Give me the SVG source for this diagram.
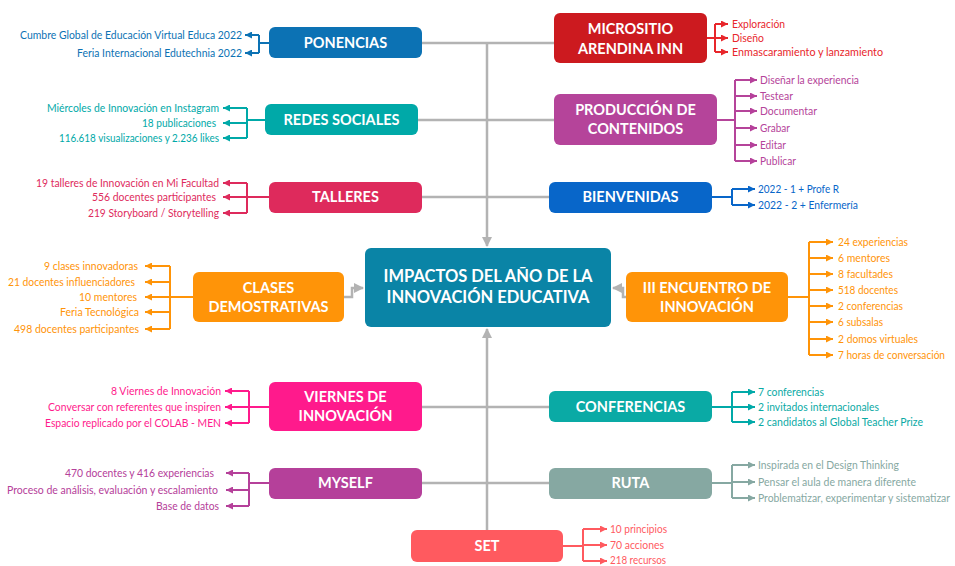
<svg xmlns="http://www.w3.org/2000/svg" width="955" height="566" viewBox="0 0 955 566">
<style>
.bx{font-family:Lato,"Open Sans","Liberation Sans",sans-serif;font-weight:700;font-size:14.5px;fill:#fff;text-anchor:middle}
.ct{font-size:16.5px}
.lf{font-family:Lato,"Open Sans","Liberation Sans",sans-serif;font-size:11.5px}
.l{text-anchor:end}
.g{fill:none;stroke:#b3b3b3;stroke-width:2.5}
.br{fill:none;stroke-width:2}
</style>
<defs>
<marker id="ag" markerUnits="userSpaceOnUse" markerWidth="10" markerHeight="10" refX="9" refY="5" orient="auto"><path d="M0,0 L10,5 L0,10 z" fill="#b3b3b3"/></marker>
<marker id="a1" markerUnits="userSpaceOnUse" markerWidth="7" markerHeight="7" refX="7" refY="3.5" orient="auto"><path d="M0,0 L7,3.5 L0,7 z" fill="#0c72b4"/></marker>
<marker id="a2" markerUnits="userSpaceOnUse" markerWidth="7" markerHeight="7" refX="7" refY="3.5" orient="auto"><path d="M0,0 L7,3.5 L0,7 z" fill="#00a9a8"/></marker>
<marker id="a3" markerUnits="userSpaceOnUse" markerWidth="7" markerHeight="7" refX="7" refY="3.5" orient="auto"><path d="M0,0 L7,3.5 L0,7 z" fill="#de2a5c"/></marker>
<marker id="a4" markerUnits="userSpaceOnUse" markerWidth="7" markerHeight="7" refX="7" refY="3.5" orient="auto"><path d="M0,0 L7,3.5 L0,7 z" fill="#ff9408"/></marker>
<marker id="a5" markerUnits="userSpaceOnUse" markerWidth="7" markerHeight="7" refX="7" refY="3.5" orient="auto"><path d="M0,0 L7,3.5 L0,7 z" fill="#ff1a8c"/></marker>
<marker id="a6" markerUnits="userSpaceOnUse" markerWidth="7" markerHeight="7" refX="7" refY="3.5" orient="auto"><path d="M0,0 L7,3.5 L0,7 z" fill="#b5409a"/></marker>
<marker id="a7" markerUnits="userSpaceOnUse" markerWidth="7" markerHeight="7" refX="7" refY="3.5" orient="auto"><path d="M0,0 L7,3.5 L0,7 z" fill="#e8262b"/></marker>
<marker id="a8" markerUnits="userSpaceOnUse" markerWidth="7" markerHeight="7" refX="7" refY="3.5" orient="auto"><path d="M0,0 L7,3.5 L0,7 z" fill="#0866c9"/></marker>
<marker id="a9" markerUnits="userSpaceOnUse" markerWidth="7" markerHeight="7" refX="7" refY="3.5" orient="auto"><path d="M0,0 L7,3.5 L0,7 z" fill="#86a8a2"/></marker>
<marker id="a10" markerUnits="userSpaceOnUse" markerWidth="7" markerHeight="7" refX="7" refY="3.5" orient="auto"><path d="M0,0 L7,3.5 L0,7 z" fill="#ff5a5f"/></marker>
</defs>
<rect width="955" height="566" fill="#fff"/>
<g id="connectors">
<path class="g" d="M422,43 H554 M418,120 H554 M422,197 H549 M422,407 H549 M422,483 H549"/>
<path class="g" d="M487,43 V246" marker-end="url(#ag)"/>
<path class="g" d="M487,530 V329" marker-end="url(#ag)"/>
<path class="g" d="M344,297 H352 V288 H363" marker-end="url(#ag)"/>
<path class="g" d="M626,297 H623 V288 H613" marker-end="url(#ag)"/>
<g class="br" stroke="#0c72b4"><path d="M269,43 H259 M259,35 V53"/><path d="M259,35 H245" marker-end="url(#a1)"/><path d="M259,53 H245" marker-end="url(#a1)"/></g>
<g class="br" stroke="#00a9a8"><path d="M265,120 H247 M247,108 V138"/><path d="M247,108 H223" marker-end="url(#a2)"/><path d="M247,123 H223" marker-end="url(#a2)"/><path d="M247,138 H223" marker-end="url(#a2)"/></g>
<g class="br" stroke="#de2a5c"><path d="M269,197 H247 M247,183 V213"/><path d="M247,183 H223" marker-end="url(#a3)"/><path d="M247,197 H223" marker-end="url(#a3)"/><path d="M247,213 H223" marker-end="url(#a3)"/></g>
<g class="br" stroke="#ff9408"><path d="M193,297 H170 M170,266 V329"/><path d="M170,266 H145" marker-end="url(#a4)"/><path d="M170,282 H145" marker-end="url(#a4)"/><path d="M170,297 H145" marker-end="url(#a4)"/><path d="M170,312 H145" marker-end="url(#a4)"/><path d="M170,329 H145" marker-end="url(#a4)"/></g>
<g class="br" stroke="#ff1a8c"><path d="M269,407 H249 M249,391 V423"/><path d="M249,391 H225" marker-end="url(#a5)"/><path d="M249,407 H225" marker-end="url(#a5)"/><path d="M249,423 H225" marker-end="url(#a5)"/></g>
<g class="br" stroke="#b5409a"><path d="M269,483 H249 M249,473 V506"/><path d="M249,473 H226" marker-end="url(#a6)"/><path d="M249,490 H226" marker-end="url(#a6)"/><path d="M249,506 H226" marker-end="url(#a6)"/></g>
<g class="br" stroke="#e8262b"><path d="M707,38 H715 M715,24 V52"/><path d="M715,24 H728" marker-end="url(#a7)"/><path d="M715,38 H728" marker-end="url(#a7)"/><path d="M715,52 H728" marker-end="url(#a7)"/></g>
<g class="br" stroke="#b5449a"><path d="M717,120 H735 M735,80 V161"/><path d="M735,80 H757" marker-end="url(#a6)"/><path d="M735,96 H757" marker-end="url(#a6)"/><path d="M735,111 H757" marker-end="url(#a6)"/><path d="M735,128 H757" marker-end="url(#a6)"/><path d="M735,145 H757" marker-end="url(#a6)"/><path d="M735,161 H757" marker-end="url(#a6)"/></g>
<g class="br" stroke="#0866c9"><path d="M712,197 H732 M732,189 V205"/><path d="M732,189 H755" marker-end="url(#a8)"/><path d="M732,205 H755" marker-end="url(#a8)"/></g>
<g class="br" stroke="#ff9408"><path d="M788,297 H809 M809,242 V355"/><path d="M809,242 H833" marker-end="url(#a4)"/><path d="M809,258 H833" marker-end="url(#a4)"/><path d="M809,274 H833" marker-end="url(#a4)"/><path d="M809,290 H833" marker-end="url(#a4)"/><path d="M809,306 H833" marker-end="url(#a4)"/><path d="M809,322 H833" marker-end="url(#a4)"/><path d="M809,339 H833" marker-end="url(#a4)"/><path d="M809,355 H833" marker-end="url(#a4)"/></g>
<g class="br" stroke="#00a9a8"><path d="M712,407 H732 M732,392 V422"/><path d="M732,392 H755" marker-end="url(#a2)"/><path d="M732,407 H755" marker-end="url(#a2)"/><path d="M732,422 H755" marker-end="url(#a2)"/></g>
<g class="br" stroke="#86a8a2"><path d="M712,483 H732 M732,465 V498"/><path d="M732,465 H755" marker-end="url(#a9)"/><path d="M732,482 H755" marker-end="url(#a9)"/><path d="M732,498 H755" marker-end="url(#a9)"/></g>
<g class="br" stroke="#ff5a5f"><path d="M563,546 H583 M583,529 V561"/><path d="M583,529 H607" marker-end="url(#a10)"/><path d="M583,545 H607" marker-end="url(#a10)"/><path d="M583,561 H607" marker-end="url(#a10)"/></g>
</g>
<g id="center"><rect x="365" y="248" width="246" height="79" rx="6" fill="#0a84a6"/><text class="bx ct" x="488" y="282">IMPACTOS DEL AÑO DE LA</text><text class="bx ct" x="488" y="303">INNOVACIÓN EDUCATIVA</text></g>
<g id="ponencias"><rect x="269" y="27" width="153" height="31" rx="6" fill="#0c72b4"/><text class="bx" x="345.5" y="48">PONENCIAS</text>
<g class="lf l" fill="#0c72b4"><text x="242" y="39" textLength="222" lengthAdjust="spacingAndGlyphs">Cumbre Global de Educación Virtual Educa 2022</text><text x="242" y="57" textLength="165" lengthAdjust="spacingAndGlyphs">Feria Internacional Edutechnia 2022</text></g></g>
<g id="redes"><rect x="265" y="104" width="153" height="31" rx="6" fill="#00a9a8"/><text class="bx" x="341.5" y="125">REDES SOCIALES</text>
<g class="lf l" fill="#00a9a8"><text x="219" y="112" textLength="172" lengthAdjust="spacingAndGlyphs">Miércoles de Innovación en Instagram</text><text x="216" y="127" textLength="74" lengthAdjust="spacingAndGlyphs">18 publicaciones</text><text x="219" y="142" textLength="160" lengthAdjust="spacingAndGlyphs">116.618 visualizaciones y 2.236 likes</text></g></g>
<g id="talleres"><rect x="269" y="182" width="153" height="31" rx="6" fill="#de2a5c"/><text class="bx" x="345.5" y="202">TALLERES</text>
<g class="lf l" fill="#de2a5c"><text x="219" y="187" textLength="183" lengthAdjust="spacingAndGlyphs">19 talleres de Innovación en Mi Facultad</text><text x="216" y="201" textLength="124" lengthAdjust="spacingAndGlyphs">556 docentes participantes</text><text x="219" y="217" textLength="131" lengthAdjust="spacingAndGlyphs">219 Storyboard / Storytelling</text></g></g>
<g id="clases"><rect x="193" y="272" width="151" height="50" rx="6" fill="#ff9408"/><text class="bx" x="268.5" y="293">CLASES</text><text class="bx" x="268.5" y="312">DEMOSTRATIVAS</text>
<g class="lf l" fill="#ff9408"><text x="138" y="270" textLength="94" lengthAdjust="spacingAndGlyphs">9 clases innovadoras</text><text x="135" y="286" textLength="127" lengthAdjust="spacingAndGlyphs">21 docentes influenciadores</text><text x="137" y="301" textLength="58" lengthAdjust="spacingAndGlyphs">10 mentores</text><text x="139" y="316" textLength="79" lengthAdjust="spacingAndGlyphs">Feria Tecnológica</text><text x="139" y="333" textLength="125" lengthAdjust="spacingAndGlyphs">498 docentes participantes</text></g></g>
<g id="viernes"><rect x="269" y="382" width="153" height="49" rx="6" fill="#ff1a8c"/><text class="bx" x="345.5" y="402">VIERNES DE</text><text class="bx" x="345.5" y="421">INNOVACIÓN</text>
<g class="lf l" fill="#ff1a8c"><text x="221" y="395" textLength="110" lengthAdjust="spacingAndGlyphs">8 Viernes de Innovación</text><text x="221" y="411" textLength="173" lengthAdjust="spacingAndGlyphs">Conversar con referentes que inspiren</text><text x="221" y="427" textLength="176" lengthAdjust="spacingAndGlyphs">Espacio replicado por el COLAB - MEN</text></g></g>
<g id="myself"><rect x="269" y="468" width="153" height="31" rx="6" fill="#b5409a"/><text class="bx" x="345.5" y="488">MYSELF</text>
<g class="lf l" fill="#b5409a"><text x="214" y="477" textLength="149" lengthAdjust="spacingAndGlyphs">470 docentes y 416 experiencias</text><text x="218" y="494" textLength="211" lengthAdjust="spacingAndGlyphs">Proceso de análisis, evaluación y escalamiento</text><text x="219" y="510" textLength="63" lengthAdjust="spacingAndGlyphs">Base de datos</text></g></g>
<g id="micrositio"><rect x="554" y="13" width="153" height="50" rx="6" fill="#cc1a1f"/><text class="bx" x="630.5" y="34">MICROSITIO</text><text class="bx" x="630.5" y="54">ARENDINA INN</text>
<g class="lf" fill="#e8262b"><text x="732" y="28" textLength="53" lengthAdjust="spacingAndGlyphs">Exploración</text><text x="732" y="42" textLength="32" lengthAdjust="spacingAndGlyphs">Diseño</text><text x="732" y="56" textLength="151" lengthAdjust="spacingAndGlyphs">Enmascaramiento y lanzamiento</text></g></g>
<g id="produccion"><rect x="554" y="94" width="163" height="51" rx="6" fill="#b5449a"/><text class="bx" x="635.5" y="115">PRODUCCIÓN DE</text><text class="bx" x="635.5" y="134">CONTENIDOS</text>
<g class="lf" fill="#b5449a"><text x="760" y="84" textLength="99" lengthAdjust="spacingAndGlyphs">Diseñar la experiencia</text><text x="760" y="100" textLength="33" lengthAdjust="spacingAndGlyphs">Testear</text><text x="760" y="115" textLength="57" lengthAdjust="spacingAndGlyphs">Documentar</text><text x="760" y="132" textLength="30" lengthAdjust="spacingAndGlyphs">Grabar</text><text x="760" y="149" textLength="26" lengthAdjust="spacingAndGlyphs">Editar</text><text x="760" y="165" textLength="36" lengthAdjust="spacingAndGlyphs">Publicar</text></g></g>
<g id="bienvenidas"><rect x="549" y="182" width="163" height="31" rx="6" fill="#0866c9"/><text class="bx" x="630.5" y="202">BIENVENIDAS</text>
<g class="lf" fill="#0866c9"><text x="758" y="193" textLength="81" lengthAdjust="spacingAndGlyphs">2022 - 1 + Profe R</text><text x="758" y="209" textLength="100" lengthAdjust="spacingAndGlyphs">2022 - 2 + Enfermería</text></g></g>
<g id="encuentro"><rect x="626" y="272" width="162" height="50" rx="6" fill="#ff9408"/><text class="bx" x="707" y="293">III ENCUENTRO DE</text><text class="bx" x="707" y="312">INNOVACIÓN</text>
<g class="lf" fill="#ff9408"><text x="838" y="246" textLength="70" lengthAdjust="spacingAndGlyphs">24 experiencias</text><text x="838" y="262" textLength="52" lengthAdjust="spacingAndGlyphs">6 mentores</text><text x="838" y="278" textLength="55" lengthAdjust="spacingAndGlyphs">8 facultades</text><text x="838" y="294" textLength="60" lengthAdjust="spacingAndGlyphs">518 docentes</text><text x="838" y="310" textLength="65" lengthAdjust="spacingAndGlyphs">2 conferencias</text><text x="838" y="326" textLength="45" lengthAdjust="spacingAndGlyphs">6 subsalas</text><text x="838" y="343" textLength="80" lengthAdjust="spacingAndGlyphs">2 domos virtuales</text><text x="838" y="359" font-size="11" textLength="107" lengthAdjust="spacingAndGlyphs">7 horas de conversación</text></g></g>
<g id="conferencias"><rect x="549" y="391" width="163" height="31" rx="6" fill="#0aaaa5"/><text class="bx" x="630.5" y="412">CONFERENCIAS</text>
<g class="lf" fill="#0aaaa5"><text x="758" y="396" textLength="66" lengthAdjust="spacingAndGlyphs">7 conferencias</text><text x="758" y="411" textLength="121" lengthAdjust="spacingAndGlyphs">2 invitados internacionales</text><text x="758" y="426" textLength="165" lengthAdjust="spacingAndGlyphs">2 candidatos al Global Teacher Prize</text></g></g>
<g id="ruta"><rect x="549" y="468" width="163" height="31" rx="6" fill="#86a8a2"/><text class="bx" x="630.5" y="488">RUTA</text>
<g class="lf" fill="#86a8a2"><text x="758" y="469" textLength="141" lengthAdjust="spacingAndGlyphs">Inspirada en el Design Thinking</text><text x="758" y="486" textLength="158" lengthAdjust="spacingAndGlyphs">Pensar el aula de manera diferente</text><text x="758" y="502" font-size="10.5" textLength="192" lengthAdjust="spacingAndGlyphs">Problematizar, experimentar y sistematizar</text></g></g>
<g id="set"><rect x="411" y="530" width="152" height="32" rx="6" fill="#ff5a5f"/><text class="bx" x="487" y="551">SET</text>
<g class="lf" fill="#ff5a5f"><text x="610" y="533" textLength="57" lengthAdjust="spacingAndGlyphs">10 principios</text><text x="610" y="549" textLength="54" lengthAdjust="spacingAndGlyphs">70 acciones</text><text x="610" y="564" textLength="56" lengthAdjust="spacingAndGlyphs">218 recursos</text></g></g>
</svg>
